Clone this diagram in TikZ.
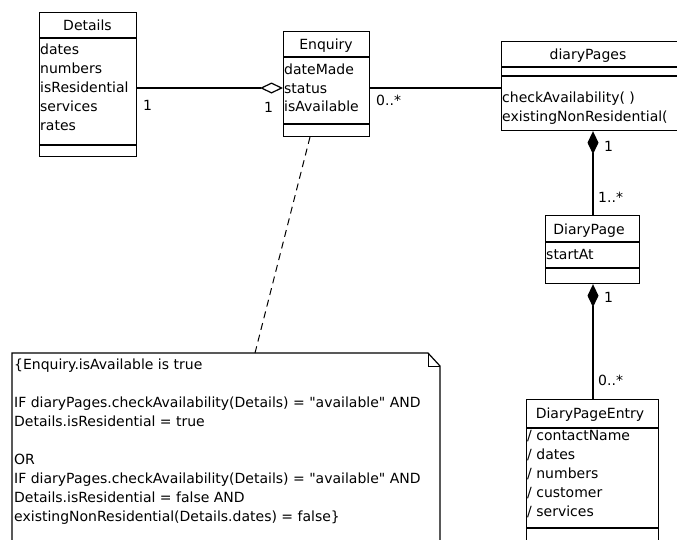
\documentclass[tikz,border=0pt]{standalone}
\usepackage{fontspec}
\setmainfont{DejaVu Sans}[Ligatures=TeXOff]
\usepackage{tikz}
\usetikzlibrary{arrows.meta}
\newcommand{\umlfont}{\fontsize{14}{19}\selectfont}
\tikzset{
	umlbox/.style={draw,line width=1.2pt},%
	classname/.style={font=\umlfont,anchor=base,inner sep=0pt},%
	member/.style={font=\umlfont,anchor=base west,inner sep=1pt},%
	multiplicity/.style={font=\umlfont,anchor=base west,inner sep=0pt},%
	assoc/.style={line width=1.2pt},%
	aggregation/.style={line width=1.2pt,-{Diamond[open,length=23pt,width=11pt,line width=1.2pt]}},%
	composition/.style={line width=1.2pt,-{Diamond[length=23pt,width=11pt]}},%
	notelink/.style={line width=1pt,dash pattern=on 7pt off 5pt},%
}

\begin{document}
\begin{tikzpicture}[x=1pt,y=-1pt]
		\clip (0,0) rectangle (677,539);
		% Details {{{
		\node[umlbox,minimum width=97pt,minimum height=144pt,anchor=north west] (details) at (39,12) {};
		\draw[umlbox] (39,38) -- (136,38) (39,145) -- (136,145);
		\node[classname] (details-name) at (87.5,30) {Details};
		\node[member] (details-dates) at (39,54) {dates};
		\node[member] (details-numbers) at (39,73) {numbers};
		\node[member] (details-res) at (39,92) {isResidential};
		\node[member] (details-services) at (39,111) {services};
		\node[member] (details-rates) at (39,130) {rates};
		% }}}
		% Enquiry {{{
		\node[umlbox,minimum width=86pt,minimum height=105pt,anchor=north west] (enquiry) at (283,31) {};
		\draw[umlbox] (283,57) -- (369,57) (283,124) -- (369,124);
		\node[classname] (enquiry-name) at (326,49) {Enquiry};
		\node[member] (enquiry-made) at (283,74) {dateMade};
		\node[member] (enquiry-status) at (283,93) {status};
		\node[member] (enquiry-avail) at (283,111.5) {isAvailable};
		\coordinate (enquiry-link) at (283,88);
		% }}}
		% diaryPages {{{
		\node[umlbox,minimum width=180pt,minimum height=89pt,anchor=north west] (diarypages) at (501,41) {};
		\draw[umlbox] (501,67) -- (681,67) (501,76) -- (681,76);
		\node[classname] (diarypages-name) at (588,59) {diaryPages};
		\node[member] (diarypages-check) at (501,102) {checkAvailability( )};
		\node[member] (diarypages-exist) at (501,121) {existingNonResidential(};
		% }}}
		% DiaryPage {{{
		\node[umlbox,minimum width=94pt,minimum height=68pt,anchor=north west] (diarypage) at (545,215) {};
		\draw[umlbox] (545,242) -- (639,242) (545,268) -- (639,268);
		\node[classname] (diarypage-name) at (589,234) {DiaryPage};
		\node[member] (diarypage-start) at (545,259.5) {startAt};
		% }}}
		% DiaryPageEntry {{{
		\node[umlbox,minimum width=132pt,minimum height=160pt,anchor=north west] (entry) at (526,399) {};
		\draw[umlbox] (526,428) -- (658,428) (526,528) -- (658,528);
		\node[classname] (entry-name) at (590,418) {DiaryPageEntry};
		\node[member] (entry-contact) at (526,440) {/ contactName};
		\node[member] (entry-dates) at (526,459) {/ dates};
		\node[member] (entry-numbers) at (526,478) {/ numbers};
		\node[member] (entry-customer) at (526,497) {/ customer};
		\node[member] (entry-services) at (526,516) {/ services};
		% }}}
		% Note {{{
		\draw[line width=1.2pt] (12,560) -- (12,353) -- (428,353) -- (440,366) -- (440,560);
		\draw[line width=1pt] (428,353) -- (428,366) -- (440,366);
		\node[font=\umlfont,anchor=north west,align=left,inner sep=0pt] (note) at (14,359) {%
			\{Enquiry.isAvailable is true\\[19pt]
			IF diaryPages.checkAvailability(Details) = "available" AND\\
			Details.isResidential = true\\[19pt]
			OR\\
			IF diaryPages.checkAvailability(Details) = "available" AND\\
			Details.isResidential = false AND\\
			existingNonResidential(Details.dates) = false\}};
		\coordinate (link-top) at (310,137);
		\coordinate (link-bottom) at (255,353);
		\draw[notelink] (link-top) -- (link-bottom);
		% }}}
		% Associations {{{
		\draw[aggregation] (details.east |- enquiry-link) -- (enquiry-link);
		\node[multiplicity] (m-details) at (143,110) {1};
		\node[multiplicity] (m-enquiry) at (264,112) {1};
		\draw[assoc] (enquiry.east |- enquiry-link) -- (diarypages.west |- enquiry-link);
		\node[multiplicity] (m-pages) at (376,105) {0..*};
		\draw[composition] (diarypage.north -| 593,0) -- (diarypages.south -| 593,0);
		\node[multiplicity] (m-pages-one) at (604,151) {1};
		\node[multiplicity] (m-page-many) at (598,202) {1..*};
		\draw[composition] (entry.north -| 593,0) -- (diarypage.south -| 593,0);
		\node[multiplicity] (m-page-one) at (604,302) {1};
		\node[multiplicity] (m-entry-many) at (598,385) {0..*};
		% }}}
	\end{tikzpicture}
\end{document}
